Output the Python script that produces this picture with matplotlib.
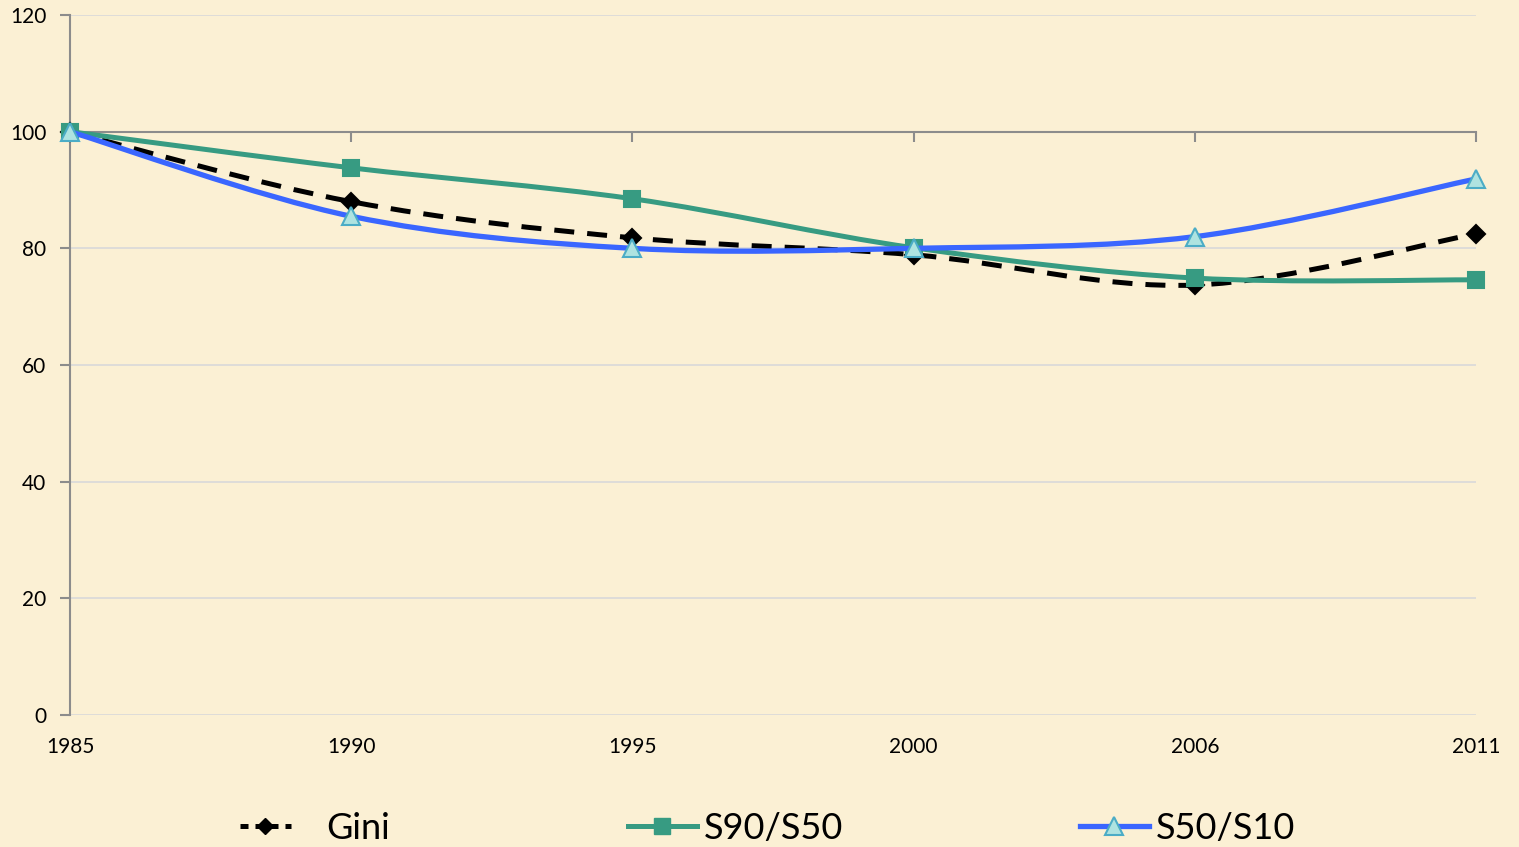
import numpy as np
import matplotlib
matplotlib.use("Agg")
import matplotlib.pyplot as plt
from matplotlib.path import Path
from matplotlib.patches import PathPatch
from matplotlib.lines import Line2D
import matplotlib.transforms as mtransforms

# ---- data ----
years = ["1985", "1990", "1995", "2000", "2006", "2011"]
gini = [100, 88.0, 81.8, 78.9, 73.7, 82.5]
s90_s50 = [100, 93.8, 88.5, 80.1, 74.9, 74.6]
s50_s10 = [100, 85.5, 80.0, 80.0, 82.0, 91.9]
y_ticks = [0, 20, 40, 60, 80, 100, 120]

BG = "#FBF0D4"
TEAL = "#379B82"
BLUE = "#3A66FF"
TRI_FACE = "#AEE3E0"
TRI_EDGE = "#4BACC6"
AXIS = "#8C8C8C"
GRID = "#D9D9D9"

plt.rcParams['font.family'] = ['Lato', 'DejaVu Sans']

fig = plt.figure(figsize=(15.19, 8.47), dpi=100, facecolor=BG)
ax = fig.add_axes([70/1519, 1-715/847, (1476-70)/1519, 700/847])
ax.set_facecolor(BG)

x = np.arange(len(years))


def smooth_path(xs, ys):
    P = np.column_stack([xs, ys]).astype(float)
    n = len(P)
    verts = [P[0]]
    codes = [Path.MOVETO]
    for i in range(n - 1):
        p0 = P[i - 1] if i > 0 else P[i]
        p1 = P[i]
        p2 = P[i + 1]
        p3 = P[i + 2] if i + 2 < n else P[i + 1]
        c1 = p1 + (p2 - p0) / 6.0
        c2 = p2 - (p3 - p1) / 6.0
        verts += [c1, c2, p2]
        codes += [Path.CURVE4] * 3
    return Path(verts, codes)


series = [
    (gini, "Gini", "black", (0, (4, 2.6)), 'D', 9, "black", "black", 3.6),
    (s90_s50, "S90/S50", TEAL, "solid", 's', 11, TEAL, TEAL, 3.6),
    (s50_s10, "S50/S10", BLUE, "solid", '^', 13, TRI_FACE, TRI_EDGE, 3.8),
]

for z, (vals, name, col, ls, mk, ms, mfc, mec, lw) in enumerate(series):
    patch = PathPatch(smooth_path(x, vals), fill=False, edgecolor=col,
                      lw=lw, linestyle=ls, capstyle='butt', zorder=3 + z,
                      clip_on=False)
    ax.add_patch(patch)
    ax.plot(x, vals, linestyle='none', marker=mk, ms=ms, mfc=mfc, mec=mec,
            mew=1.5, zorder=3.5 + z, clip_on=False)

ax.set_xlim(0, len(years) - 1)
ax.set_ylim(0, 120)
ax.set_yticks(y_ticks)
ax.set_yticklabels([str(t) for t in y_ticks], fontsize=15, color="black")
ax.yaxis.grid(True, color=GRID, lw=1.2, zorder=0)
ax.set_axisbelow(True)

for s in ["top", "right"]:
    ax.spines[s].set_visible(False)
ax.spines["left"].set_color(AXIS)
ax.spines["left"].set_linewidth(1.5)
ax.spines["bottom"].set_position(("data", 100))
ax.spines["bottom"].set_color(AXIS)
ax.spines["bottom"].set_linewidth(1.5)
ax.spines["bottom"].set_zorder(2.5)

ax.tick_params(axis='y', direction='out', length=7, width=1.5, color=AXIS, pad=10)
ax.set_xticks(x)
ax.set_xticklabels([])
ax.tick_params(axis='x', direction='out', length=7, width=1.5, color=AXIS)

trans = mtransforms.blended_transform_factory(ax.transData, ax.transAxes)
for xi, lab in zip(x, years):
    ax.text(xi, -0.046, lab, transform=trans, ha='center', va='center',
            fontsize=15, color="black")

# ---- legend ----
leg_y = (847 - 828) / 847
entries = [
    (Line2D([], [], color="black", lw=3.6, ls=(0, (1.6, 1.4)), marker='D', ms=8,
            mfc="black", mec="black"), "Gini", 240 / 1519),
    (Line2D([], [], color=TEAL, lw=3.6, marker='s', ms=11, mfc=TEAL, mec=TEAL),
     "S90/S50", 628 / 1519),
    (Line2D([], [], color=BLUE, lw=3.8, marker='^', ms=13, mfc=TRI_FACE,
            mec=TRI_EDGE, mew=1.5), "S50/S10", 1080 / 1519),
]
hl = [1.4, 1.9, 1.9]
hp = [1.0, 0.2, 0.2]
for (h, lab, xpos), l, p in zip(entries, hl, hp):
    lg = fig.legend([h], [lab], loc='center left', bbox_to_anchor=(xpos, leg_y),
                    frameon=False, fontsize=26, handlelength=l, handletextpad=p,
                    borderaxespad=0, borderpad=0)

fig.savefig("out.png", dpi=100, facecolor=BG)
